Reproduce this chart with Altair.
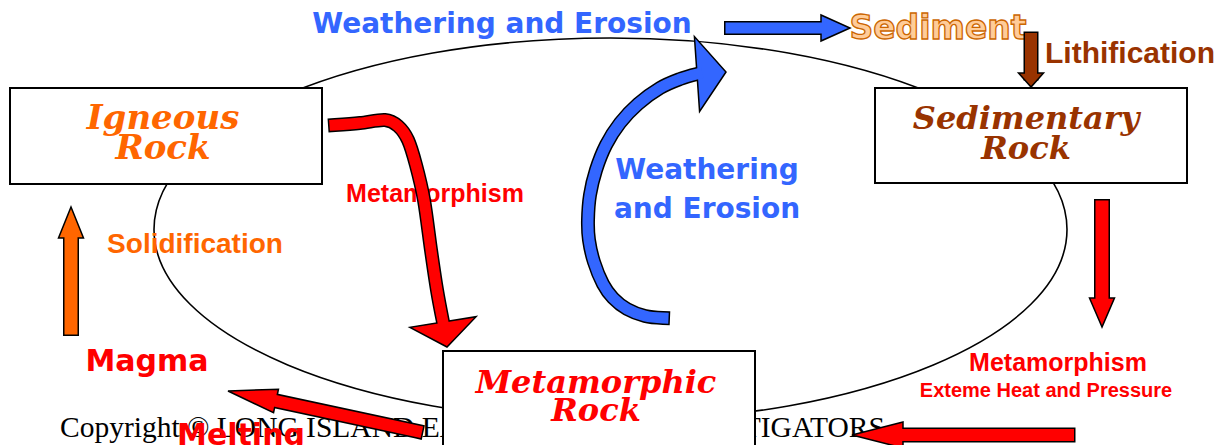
import math
import altair as alt
import pandas as pd

# ---------------- diagram values ----------------
# outline of the cycle (ellipse): centre and semi-axes, in picture pixels
cycle_center = [610.5, 229.5]
cycle_radii = [456.5, 191.5]

# rock boxes
box_names = ["Igneous Rock", "Sedimentary Rock", "Metamorphic Rock"]
box_left = [10, 875, 443]
box_right = [322, 1187, 755]
box_top = [88, 88, 351]
box_bottom = [184, 183, 470]

rock_line1 = ["Igneous", "Sedimentary", "Metamorphic"]
rock_line2 = ["Rock", "Rock", "Rock"]
rock_colors = ["#FF6600", "#993300", "#FF0000"]
rock_x = [163, 1026, 596]
rock_base1 = [129, 129, 393]
rock_base2 = [159, 159, 421]
rock_size = [34, 32, 32]

# process labels
label_texts = ["Weathering and Erosion", "Sediment", "Lithification", "Metamorphism",
               "Solidification", "Weathering", "and Erosion", "Magma", "Melting",
               "Metamorphism", "Exteme Heat and Pressure"]
label_x = [502, 938, 1130, 435, 195, 707, 707, 147, 241, 1058, 1046]
label_base = [33, 39, 63, 202, 253, 179, 218, 371, 445, 371, 397]
label_colors = ["#3366FF", "#FFCC99", "#993300", "#FF0000", "#FF6600", "#3366FF",
                "#3366FF", "#FF0000", "#FF0000", "#FF0000", "#FF0000"]
label_fonts = ["DejaVu Sans", "DejaVu Sans", "Liberation Sans", "Liberation Sans",
               "Liberation Sans", "DejaVu Sans", "DejaVu Sans", "DejaVu Sans",
               "DejaVu Sans", "Liberation Sans", "Liberation Sans"]
label_sizes = [28, 33, 30, 25, 28, 28, 28, 30, 30, 25, 20]

copyright_text = "Copyright \u00a9 LONG ISLAND EARTH SCIENCE INVESTIGATORS"
copyright_pos = [60, 437]

# arrows: body path (ending at the head base), tip, widths, colour
arrow_names = ["to_sediment", "lithification", "sed_to_meta", "meta_bottom",
               "melting", "solidification", "ign_to_meta", "weathering_curve"]
arrow_colors = ["#3366FF", "#993300", "#FF0000", "#FF0000", "#FF0000", "#FF6600",
                "#FF0000", "#3366FF"]
arrow_paths = [
    [(731, 28), (821, 28)],
    [(1031, 39), (1031, 73)],
    [(1102, 207), (1102, 298)],
    [(1068, 435), (903, 435)],
    [(416, 431), (276, 401)],
    [(71, 328), (71, 238)],
    [(335, 125), (360, 123), (385, 120), (398, 126), (408, 140), (416, 165),
     (424, 200), (431, 250), (437, 290), (443, 322)],
    [(663, 318), (645, 316), (627, 309), (613, 298), (603, 284), (594, 262),
     (589, 240), (588, 220), (590, 195), (596, 170), (606, 145), (620, 123),
     (638, 104), (660, 88), (680, 79), (697, 74)],
]
arrow_tips = [(850, 28), (1031, 87), (1102, 327), (852, 435), (228, 391), (71, 207),
              (447, 347), (726, 72)]
arrow_body_w = [11, 12, 13, 12, 12, 13, 11, 11]
arrow_head_w = [26, 25, 25, 26, 24, 25, 67, 75]

# ---------------- scales ----------------
W, H = 1209, 437
xs = alt.Scale(domain=[8, 8 + W], nice=False, zero=False)
ys = alt.Scale(domain=[8, 8 + H], nice=False, zero=False, reverse=True)


def X(f="x"):
    return alt.X(f"{f}:Q", scale=xs, axis=None)


def Y(f="y"):
    return alt.Y(f"{f}:Q", scale=ys, axis=None)


# ---------------- ellipse ----------------
a, b = cycle_radii
r = b / a
k = 0.5523
ell_path = (f"M -1 0 C -1 {-k*r:.4f} {-k:.4f} {-r:.4f} 0 {-r:.4f} "
            f"C {k:.4f} {-r:.4f} 1 {-k*r:.4f} 1 0 "
            f"C 1 {k*r:.4f} {k:.4f} {r:.4f} 0 {r:.4f} "
            f"C {-k:.4f} {r:.4f} -1 {k*r:.4f} -1 0 Z")
ell_df = pd.DataFrame({"x": [cycle_center[0]], "y": [cycle_center[1]]})
ellipse = alt.Chart(ell_df).mark_point(
    shape=ell_path, size=(2 * a) ** 2, filled=False, stroke="black",
    strokeWidth=1.6, opacity=1
).encode(x=X(), y=Y())

# ---------------- copyright ----------------
cp_df = pd.DataFrame({"x": [copyright_pos[0]], "y": [copyright_pos[1]], "t": [copyright_text]})
copyright = alt.Chart(cp_df).mark_text(
    font="Liberation Serif", fontSize=29.5, align="left", baseline="alphabetic",
    color="black"
).encode(x=X(), y=Y(), text="t:N")

# ---------------- boxes ----------------
box_df = pd.DataFrame({"name": box_names, "x": box_left, "x2": box_right,
                       "y": box_top, "y2": box_bottom})
boxes = alt.Chart(box_df).mark_rect(fill="white", stroke="black", strokeWidth=2).encode(
    x=X(), x2="x2:Q", y=Y(), y2="y2:Q")

rock_layers = []
for i in range(3):
    for txt, yy in ((rock_line1[i], rock_base1[i]), (rock_line2[i], rock_base2[i])):
        d = pd.DataFrame({"x": [rock_x[i]], "y": [yy], "t": [txt]})
        rock_layers.append(alt.Chart(d).mark_text(
            font="DejaVu Serif", fontSize=rock_size[i], fontWeight="bold",
            fontStyle="italic", align="center", baseline="alphabetic",
            color=rock_colors[i]).encode(x=X(), y=Y(), text="t:N"))

# ---------------- labels ----------------
label_layers = []
for i, txt in enumerate(label_texts):
    d = pd.DataFrame({"x": [label_x[i]], "y": [label_base[i]], "t": [txt]})
    props = dict(font=label_fonts[i], fontSize=label_sizes[i], fontWeight="bold",
                 align="center", baseline="alphabetic", fill=label_colors[i])
    if txt == "Sediment":
        props.update(stroke="#CC6600", strokeWidth=1.3)
    label_layers.append(alt.Chart(d).mark_text(**props).encode(x=X(), y=Y(), text="t:N"))

# ---------------- arrows ----------------
rows = []
heads = []
for n, name in enumerate(arrow_names):
    pts = arrow_paths[n]
    for i, (px, py) in enumerate(pts):
        rows.append({"arrow": name, "i": i, "x": px, "y": py, "col": arrow_colors[n],
                     "w": arrow_body_w[n], "wo": arrow_body_w[n] + 3})
    bx, by = pts[-1]
    tx, ty = arrow_tips[n]
    L = math.hypot(tx - bx, ty - by)
    ux, uy = (tx - bx) / L, (ty - by) / L
    nx, ny = -uy, ux
    hw = arrow_head_w[n] / 2
    b1 = (bx + nx * hw - tx, by + ny * hw - ty)
    b2 = (bx - nx * hw - tx, by - ny * hw - ty)
    shp = f"M 0 0 L {b1[0]:.2f} {b1[1]:.2f} L {b2[0]:.2f} {b2[1]:.2f} Z"
    heads.append({"arrow": name, "x": tx, "y": ty, "col": arrow_colors[n], "shape": shp})

body_df = pd.DataFrame(rows)
head_df = pd.DataFrame(heads)

body_outline = alt.Chart(body_df).mark_line(
    interpolate="cardinal", strokeCap="square", strokeJoin="round", color="black"
).encode(x=X(), y=Y(), detail="arrow:N", order="i:Q",
         strokeWidth=alt.StrokeWidth("wo:Q", scale=None))

head_marks = alt.Chart(head_df).mark_point(
    filled=True, opacity=1, stroke="black", strokeWidth=1.5, size=4
).encode(x=X(), y=Y(), fill=alt.Fill("col:N", scale=None),
         shape=alt.Shape("shape:N", scale=None), detail="arrow:N")

body_fill = alt.Chart(body_df).mark_line(
    interpolate="cardinal", strokeCap="square", strokeJoin="round"
).encode(x=X(), y=Y(), detail="arrow:N", order="i:Q",
         color=alt.Color("col:N", scale=None),
         strokeWidth=alt.StrokeWidth("w:Q", scale=None))

chart = alt.layer(
    ellipse, copyright, boxes, *rock_layers, *label_layers,
    body_outline, head_marks, body_fill
).properties(
    width=W, height=H, autosize=alt.AutoSizeParams(type="none"), padding=0,
    background="white"
).configure_view(stroke=None)

chart.save("out.html", embed_options={"renderer": "svg", "actions": False})
